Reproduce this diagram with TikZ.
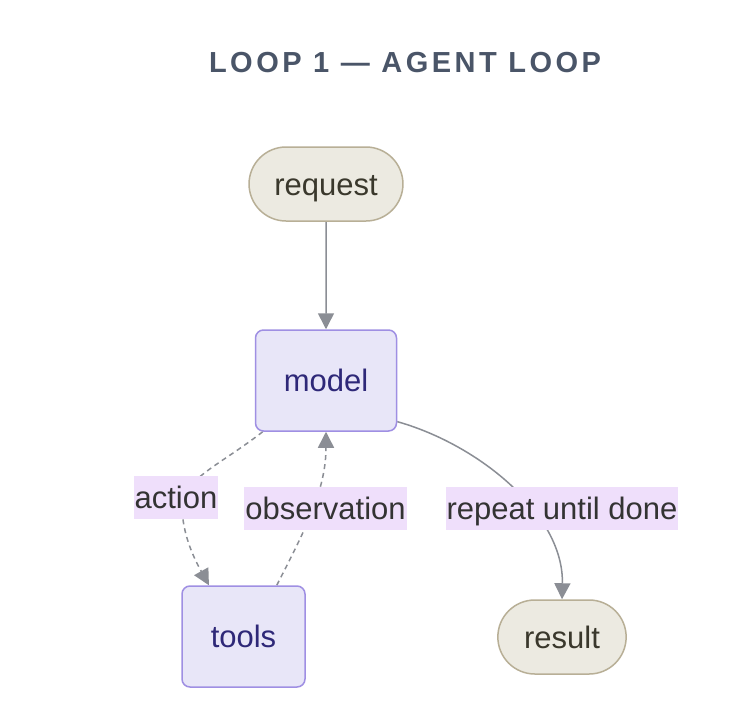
\documentclass[tikz,border=0pt]{standalone}
\usepackage{fontspec}
\setmainfont{Liberation Sans}
\newfontfamily\titlefont[LetterSpace=12]{Liberation Sans}
\usetikzlibrary{arrows.meta,shapes.misc,backgrounds}

\definecolor{termfill}{HTML}{ECEAE1}
\definecolor{termline}{HTML}{B8AF96}
\definecolor{termtext}{HTML}{3A382C}
\definecolor{procfill}{HTML}{E8E6F8}
\definecolor{procline}{HTML}{9F8FE3}
\definecolor{proctext}{HTML}{2E2878}
\definecolor{lblfill}{HTML}{EFDFFB}
\definecolor{lbltext}{HTML}{333333}
\definecolor{edgegray}{HTML}{8B8E95}
\definecolor{titlecol}{HTML}{4A5568}

\tikzset{
	txt/.style={font=\fontsize{31}{36}\selectfont, text height=22.5pt, text depth=0pt},
	term/.style={txt, rounded rectangle, draw=termline, fill=termfill, line width=1.5pt, text=termtext, minimum height=74pt},
	proc/.style={txt, rectangle, rounded corners=8pt, draw=procline, fill=procfill, line width=1.5pt, text=proctext, minimum height=101pt},
	lbl/.style={txt, fill=lblfill, text=lbltext, inner xsep=1pt, inner ysep=0pt, minimum height=43pt},
	edge/.style={draw=edgegray, line width=1.5pt, -{Triangle[length=16pt,width=16pt]}},
	dashedge/.style={edge, dash pattern=on 5pt off 4pt}
}

\begin{document}
\begin{tikzpicture}[x=1pt, y=-1pt]
	\node[font=\titlefont\bfseries\fontsize{29}{34}\selectfont, text=titlecol] (title) at (405,63) {LOOP 1 — AGENT LOOP};
	% nodes
	\node[term, inner xsep=23.5pt] (request) at (326,184) {request};
	\node[proc, minimum width=141pt] (model) at (326,380.5) {model};
	\node[proc, minimum width=123pt] (tools) at (243.5,636.5) {tools};
	\node[term, inner xsep=24.5pt] (result) at (562,637) {result};
	% edge labels
	\node[lbl] (action) at (176,497.5) {action};
	\node[lbl] (observation) at (325.5,508) {observation};
	\node[lbl] (repeat) at (562,508) {repeat until done};
	% connectors
	\begin{scope}[on background layer]
	\fill[white] (0,0) rectangle (756,710);
	\draw[edge] (request) -- (model);
	\draw[dashedge] (model.219) .. controls (220,465) and (185,478) .. (182,505) .. controls (182,535) and (195,560) .. (tools.124);
	\draw[dashedge] (tools.57) .. controls (305,530) and (326,490) .. (model.south);
	\draw[edge] (model.330) .. controls (480,445) and (564,515) .. (result.north);
	\end{scope}
\end{tikzpicture}
\end{document}
